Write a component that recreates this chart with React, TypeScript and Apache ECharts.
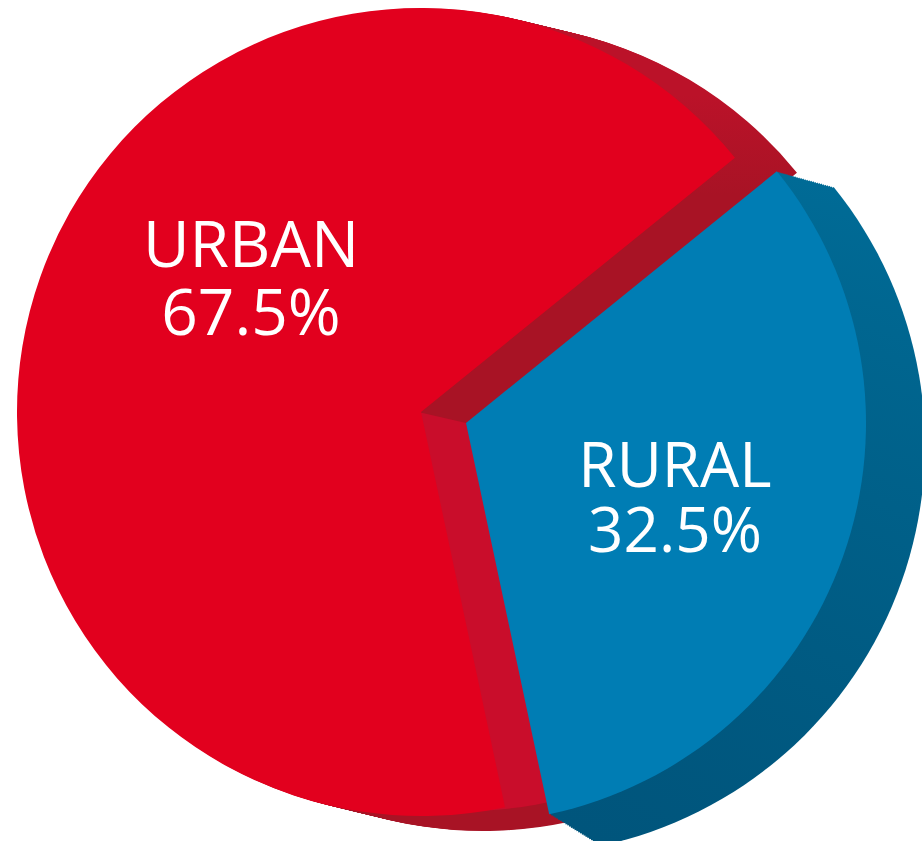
import React, { useEffect, useRef } from 'react';
import * as echarts from 'echarts';

// ---- data ----
const categories = ['URBAN', 'RURAL'];
const shares = [67.5, 32.5];
const valueLabels = ['67.5%', '32.5%'];

// ---- styles ----
const RED_FACE = '#e2001e';
const RED_SIDE_LIGHT = '#c90d2b';
const BLUE_FACE = '#007db4';
const CLEAR = 'rgba(0,0,0,0)';

export default function App() {
  const ref = useRef<HTMLDivElement>(null);

  useEffect(() => {
    const chart = echarts.init(ref.current as HTMLDivElement, null, { renderer: 'svg' });
    const urban = shares[0];
    const rural = shares[1];
    const START = 39;
    const ruralSweep = (rural / 100) * 360;

    let z = 1;
    const pie = (cx: number, cy: number, r: number, start: number, ruralColor: any, urbanColor: any) => ({
      type: 'pie',
      center: [cx, cy],
      radius: r,
      startAngle: start,
      clockwise: true,
      silent: true,
      z: z++,
      label: { show: false },
      labelLine: { show: false },
      emphasis: { disabled: true },
      itemStyle: { borderWidth: 0 },
      data: [
        { name: categories[1], value: rural, itemStyle: { color: ruralColor, borderWidth: 0 } },
        { name: categories[0], value: urban, itemStyle: { color: urbanColor, borderWidth: 0 } },
      ],
    });

    const series: any[] = [];

    // red extrusion (lighter where it faces up-right, darker below)
    const redSide = new echarts.graphic.LinearGradient(
      0, 95, 0, 195,
      [
        { offset: 0, color: '#bb1229' },
        { offset: 1, color: '#a81325' },
      ],
      true
    );
    const RC = [421, 412];
    const RR = 404;
    const RD = [62, 15];
    const N1 = 32;
    for (let i = N1; i >= 1; i--) {
      const t = i / N1;
      series.push(pie(RC[0] + RD[0] * t, RC[1] + RD[1] * t, RR, START, CLEAR, redSide));
    }

    // blue slice geometry
    const BC = [466, 423];
    const BR = 400;
    const BD = [49, 22];
    const GROW = 10;

    // lighter side face along the lower cut of the red slice
    const overlayStart = START - ruralSweep + 360 + 2;
    series.push(pie(BC[0], BC[1], 388, overlayStart, RED_SIDE_LIGHT, CLEAR));

    // red top face
    series.push(pie(RC[0], RC[1], RR, START, CLEAR, RED_FACE));

    // blue extrusion
    const blueSide = new echarts.graphic.LinearGradient(0, 0, 0, 1, [
      { offset: 0, color: '#006b96' },
      { offset: 1, color: '#00557c' },
    ]);
    const N2 = 28;
    for (let i = N2; i >= 1; i--) {
      const t = i / N2;
      series.push(pie(BC[0] + BD[0] * t, BC[1] + BD[1] * t, BR + GROW * t, START, blueSide, CLEAR));
    }

    // blue top face
    series.push(pie(BC[0], BC[1], BR, START, BLUE_FACE, CLEAR));

    const label = (i: number, x: number, y: number, size: number, lh: number) => ({
      type: 'text',
      x,
      y,
      z: 1000,
      silent: true,
      style: {
        text: categories[i] + '\n' + valueLabels[i],
        fill: '#ffffff',
        fontSize: size,
        lineHeight: lh,
        fontFamily: '"Open Sans", "Noto Sans", sans-serif',
        fontWeight: 'normal',
        align: 'center',
        verticalAlign: 'middle',
      },
    });

    chart.setOption({
      animation: false,
      backgroundColor: '#ffffff',
      series,
      graphic: [label(0, 251, 276, 64, 68), label(1, 675, 495, 62, 65)],
    });

    return () => chart.dispose();
  }, []);

  return (
    <div
      ref={ref}
      style={{ position: 'absolute', left: 0, top: 0, width: 922, height: 841 }}
    />
  );
}
